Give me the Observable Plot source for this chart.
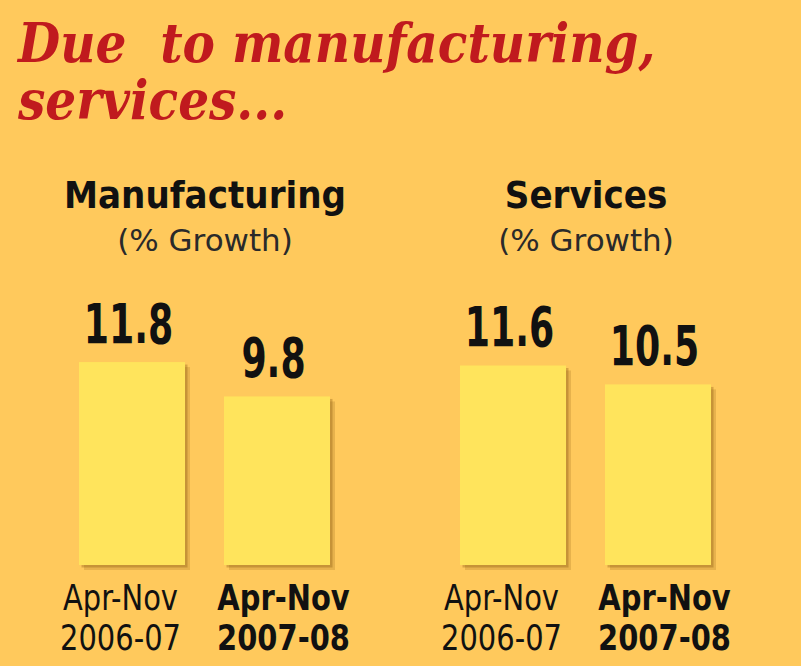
<!DOCTYPE html>
<html>
<head>
<meta charset="utf-8">
<script src="https://cdn.jsdelivr.net/npm/d3@7"></script>
<script src="https://cdn.jsdelivr.net/npm/@observablehq/plot@0.6"></script>
<style>
  html, body { margin: 0; padding: 0; background: #FFC95C; }
  #wrap { width: 801px; height: 666px; overflow: hidden; }
  #title {
    height: 150px; box-sizing: border-box; padding: 15px 0 0 18px;
    font-family: "DejaVu Serif Condensed", "DejaVu Serif", serif;
    font-weight: bold; font-style: italic; font-size: 54px; line-height: 57px;
    color: #C01A1E; white-space: pre;
  }
</style>
</head>
<body>
<div id="wrap">
  <div id="title">Due  to manufacturing,
services...</div>
  <div id="chart"></div>
</div>
<script>
const groups = ["Manufacturing", "Services"];
const periods = ["2006-07", "2007-08"];
const periodPrefix = "Apr-Nov";
const manufacturing = [11.8, 9.8];
const services = [11.6, 10.5];
const subtitle = "(% Growth)";

const seriesByGroup = { "Manufacturing": manufacturing, "Services": services };
const data = groups.flatMap(g => periods.map((p, i) => ({ group: g, period: p, value: seriesByGroup[g][i] })));
const titles = groups.map(g => ({ group: g }));

const narrow = `"DejaVu Sans Condensed", sans-serif`;

const chart = Plot.plot({
  width: 801,
  height: 516,
  marginTop: 0,
  marginBottom: 101,
  marginLeft: 78,
  marginRight: 89,
  style: { background: "transparent", overflow: "visible" },
  fx: { domain: groups, paddingInner: 0.34, paddingOuter: 0, axis: null },
  x: { domain: periods, paddingInner: 0.27, paddingOuter: 0, axis: null },
  y: { domain: [0, 24.13], axis: null },
  marks: [
    Plot.barY(data, { fx: "group", x: "period", y: "value", fill: "#7a4c08", fillOpacity: 0.18, dx: 5, dy: 5 }),
    Plot.barY(data, { fx: "group", x: "period", y: "value", fill: "#7a4c08", fillOpacity: 0.3, dx: 2.5, dy: 2.5 }),
    Plot.barY(data, { fx: "group", x: "period", y: "value", fill: "#FFE45C" }),
    Plot.text(data, {
      fx: "group", x: "period", y: "value", text: d => d.value.toFixed(1),
      lineAnchor: "bottom", dy: -20, dx: -4, fontSize: 56, fontWeight: "bold",
      fontFamily: narrow, fill: "#111", ariaDescription: "values"
    }),
    Plot.text(titles, {
      fx: "group", text: "group", frameAnchor: "top", lineAnchor: "middle", dy: 45,
      fontSize: 38, fontWeight: "bold", fontFamily: narrow, fill: "#111"
    }),
    Plot.text(titles, {
      fx: "group", text: d => subtitle, frameAnchor: "top", lineAnchor: "middle", dy: 91,
      fontSize: 31, fontFamily: `"DejaVu Sans", sans-serif`, fill: "#2a2a2a"
    }),
    Plot.text(data.filter(d => d.period === periods[0]), {
      fx: "group", x: "period", text: d => `${periodPrefix}\n${d.period}`,
      frameAnchor: "bottom", lineAnchor: "top", dy: 17, dx: -12, lineHeight: 1.12,
      fontSize: 35, fontFamily: narrow, fill: "#111", ariaDescription: "ticks"
    }),
    Plot.text(data.filter(d => d.period === periods[1]), {
      fx: "group", x: "period", text: d => `${periodPrefix}\n${d.period}`,
      frameAnchor: "bottom", lineAnchor: "top", dy: 17, dx: 6, lineHeight: 1.12,
      fontSize: 35, fontWeight: "bold", fontFamily: narrow, fill: "#111", ariaDescription: "ticks"
    })
  ]
});

// horizontally condense some labels, as in the original's narrow typeface
function condense(label, k) {
  d3.select(chart).selectAll(`g[aria-description="${label}"] text`).each(function () {
    const t = d3.select(this);
    const tr = t.attr("transform");
    if (tr) {
      t.attr("transform", `${tr} scale(${k},1)`);
    } else {
      const x = +t.attr("x") || 0, y = +t.attr("y") || 0;
      t.attr("x", null).attr("y", null).attr("transform", `translate(${x},${y}) scale(${k},1)`);
    }
  });
}
condense("values", 0.72);
condense("ticks", 0.92);
document.getElementById("chart").appendChild(chart);
</script>
</body>
</html>
